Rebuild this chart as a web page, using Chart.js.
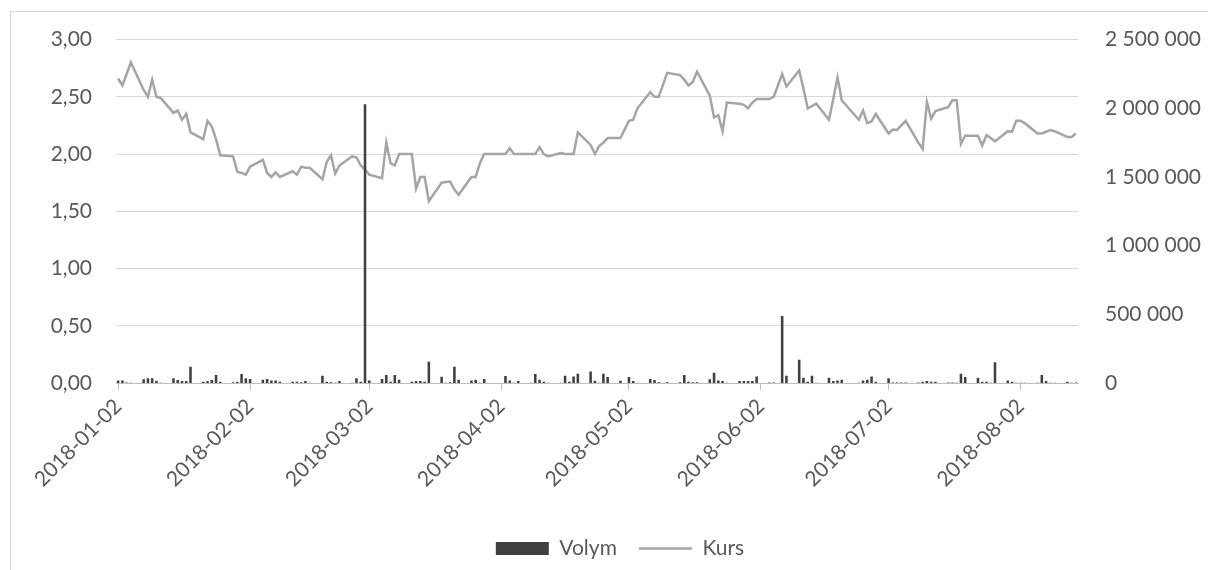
<!DOCTYPE html>
<html>
<head>
<meta charset="utf-8">
<script src="https://cdn.jsdelivr.net/npm/chart.js@4.4.1/dist/chart.umd.min.js"></script>
<style>
  html, body { margin: 0; padding: 0; background: #fff; }
  canvas { display: block; }
</style>
</head>
<body>
<canvas id="kursChart" width="1208" height="570"></canvas>
<script>
// trading days (Swedish exchange, holidays left out)
const dates = [
  "2018-01-02","2018-01-03","2018-01-04","2018-01-05","2018-01-08","2018-01-09","2018-01-10","2018-01-11","2018-01-12",
  "2018-01-15","2018-01-16","2018-01-17","2018-01-18","2018-01-19","2018-01-22","2018-01-23","2018-01-24","2018-01-25",
  "2018-01-26","2018-01-29","2018-01-30","2018-01-31",
  "2018-02-01","2018-02-02","2018-02-05","2018-02-06","2018-02-07","2018-02-08","2018-02-09","2018-02-12","2018-02-13",
  "2018-02-14","2018-02-15","2018-02-16","2018-02-19","2018-02-20","2018-02-21","2018-02-22","2018-02-23","2018-02-26",
  "2018-02-27","2018-02-28",
  "2018-03-01","2018-03-02","2018-03-05","2018-03-06","2018-03-07","2018-03-08","2018-03-09","2018-03-12","2018-03-13",
  "2018-03-14","2018-03-15","2018-03-16","2018-03-19","2018-03-20","2018-03-21","2018-03-22","2018-03-23","2018-03-26",
  "2018-03-27","2018-03-28","2018-03-29",
  "2018-04-03","2018-04-04","2018-04-05","2018-04-06","2018-04-09","2018-04-10","2018-04-11","2018-04-12","2018-04-13",
  "2018-04-16","2018-04-17","2018-04-18","2018-04-19","2018-04-20","2018-04-23","2018-04-24","2018-04-25","2018-04-26",
  "2018-04-27","2018-04-30",
  "2018-05-02","2018-05-03","2018-05-04","2018-05-07","2018-05-08","2018-05-09","2018-05-11","2018-05-14","2018-05-15",
  "2018-05-16","2018-05-17","2018-05-18","2018-05-21","2018-05-22","2018-05-23","2018-05-24","2018-05-25","2018-05-28",
  "2018-05-29","2018-05-30","2018-05-31",
  "2018-06-01","2018-06-04","2018-06-05","2018-06-07","2018-06-08","2018-06-11","2018-06-12","2018-06-13","2018-06-14",
  "2018-06-15","2018-06-18","2018-06-19","2018-06-20","2018-06-21","2018-06-25","2018-06-26","2018-06-27","2018-06-28",
  "2018-06-29",
  "2018-07-02","2018-07-03","2018-07-04","2018-07-05","2018-07-06","2018-07-09","2018-07-10","2018-07-11","2018-07-12",
  "2018-07-13","2018-07-16","2018-07-17","2018-07-18","2018-07-19","2018-07-20","2018-07-23","2018-07-24","2018-07-25",
  "2018-07-26","2018-07-27","2018-07-30","2018-07-31",
  "2018-08-01","2018-08-02","2018-08-03","2018-08-06","2018-08-07","2018-08-08","2018-08-09","2018-08-10","2018-08-13",
  "2018-08-14","2018-08-15"
];

const kurs = [
  2.66,2.60,2.70,2.80,2.56,2.50,2.65,2.50,2.49,
  2.36,2.38,2.30,2.35,2.19,2.13,2.29,2.24,2.13,
  1.99,1.98,1.845,1.835,
  1.82,1.89,1.95,1.835,1.80,1.84,1.80,1.85,1.82,
  1.89,1.88,1.88,1.78,1.93,1.99,1.83,1.90,1.98,
  1.97,1.90,
  1.865,1.82,1.79,2.10,1.92,1.90,2.00,2.00,1.70,
  1.80,1.80,1.59,1.75,1.755,1.76,1.69,1.645,1.80,
  1.80,1.92,2.00,
  2.00,2.05,2.00,2.00,2.00,2.00,2.06,2.00,1.98,
  2.01,2.00,2.00,2.00,2.19,2.08,2.00,2.07,2.10,
  2.14,2.14,
  2.29,2.30,2.40,2.54,2.50,2.50,2.71,2.69,2.65,
  2.60,2.63,2.72,2.51,2.32,2.34,2.20,2.45,2.44,
  2.43,2.40,2.45,
  2.48,2.48,2.50,2.70,2.59,2.73,2.57,2.40,2.42,
  2.44,2.30,2.48,2.67,2.47,2.30,2.38,2.27,2.285,
  2.35,
  2.18,2.215,2.21,2.25,2.29,2.10,2.045,2.455,2.31,
  2.375,2.41,2.47,2.47,2.09,2.16,2.16,2.075,2.165,
  2.14,2.11,2.20,2.195,
  2.29,2.29,2.27,2.18,2.18,2.195,2.21,2.20,2.15,
  2.15,2.18
];

const volym = [
  19000,19000,4000,2500,27000,34000,34000,17000,2500,
  34000,22000,15000,15000,119000,10000,15000,22000,58000,
  10000,5000,10000,66000,
  34000,29000,24000,29000,19000,19000,10000,10000,10000,
  5000,15000,2500,53000,10000,5000,2500,15000,2500,
  34000,10000,
  2030000,19000,29000,58000,10000,58000,24000,10000,15000,
  15000,10000,154000,46000,2500,5000,119000,24000,19000,
  24000,2500,29000,
  51000,19000,2500,15000,2500,66000,24000,10000,2500,
  2500,53000,10000,48000,68000,83000,17000,2500,68000,
  44000,17000,
  44000,15000,2500,29000,22000,5000,5000,5000,58000,
  10000,5000,5000,27000,75000,19000,15000,2500,15000,
  15000,15000,15000,
  48000,4000,4000,488000,53000,170000,39000,10000,53000,
  2500,39000,15000,19000,24000,2500,19000,24000,48000,
  10000,
  34000,4000,4000,4000,4000,4000,10000,15000,10000,
  10000,4000,4000,2500,68000,44000,39000,10000,10000,
  2500,151000,19000,10000,
  2500,2500,2500,2500,58000,15000,2500,2500,10000,
  2500,4000
];

// date axis: one category per calendar day, weekends/holidays left empty
const days = [];
for (let t = Date.UTC(2018, 0, 2); t <= Date.UTC(2018, 7, 15); t += 86400000) {
  days.push(new Date(t).toISOString().slice(0, 10));
}
const kursByDay = days.map(d => { const i = dates.indexOf(d); return i < 0 ? null : kurs[i]; });
const volymByDay = days.map(d => { const i = dates.indexOf(d); return i < 0 ? null : volym[i]; });

const FONT = { family: "Lato", size: 21 };
const TEXT = "#595959";

const chartBorder = {
  id: "chartBorder",
  beforeDraw(chart) {
    const ctx = chart.ctx;
    ctx.save();
    ctx.strokeStyle = "#D9D9D9";
    ctx.lineWidth = 1;
    ctx.strokeRect(10.5, 11.5, 1400, 800);
    ctx.restore();
  }
};

new Chart(document.getElementById("kursChart"), {
  type: "bar",
  data: {
    labels: days,
    datasets: [
      {
        label: "Volym",
        data: volymByDay,
        yAxisID: "y1",
        backgroundColor: "#404040",
        borderWidth: 0,
        barPercentage: 0.6,
        categoryPercentage: 1,
        pointStyle: "rect",
        order: 0
      },
      {
        type: "line",
        label: "Kurs",
        data: kursByDay,
        yAxisID: "y",
        borderColor: "#A5A5A5",
        backgroundColor: "#A5A5A5",
        borderWidth: 2.5,
        pointRadius: 0,
        pointStyle: "line",
        tension: 0,
        spanGaps: true,
        order: 1
      }
    ]
  },
  options: {
    responsive: false,
    animation: false,
    devicePixelRatio: 1,
    layout: { padding: { left: 32, right: 0, top: 33, bottom: 1 } },
    plugins: {
      tooltip: { enabled: false },
      legend: {
        position: "bottom",
        labels: {
          color: TEXT,
          font: FONT,
          usePointStyle: true,
          pointStyleWidth: 53,
          boxHeight: 13,
          padding: 22
        }
      }
    },
    scales: {
      x: {
        offset: true,
        grid: { drawOnChartArea: false, offset: false, tickLength: 7, color: "#BFBFBF" },
        border: { color: "#BFBFBF" },
        ticks: {
          autoSkip: false,
          maxRotation: 45,
          minRotation: 45,
          padding: 4,
          color: TEXT,
          font: FONT
        },
        afterBuildTicks(scale) {
          scale.ticks = scale.ticks.filter(t => days[t.value].endsWith("-02"));
        },
        afterFit(scale) { scale.height = 133; }
      },
      y: {
        position: "left",
        min: 0,
        max: 3,
        grid: { color: "#D9D9D9", drawTicks: false },
        border: { display: false },
        ticks: {
          stepSize: 0.5,
          padding: 24,
          color: TEXT,
          font: FONT,
          callback: v => v.toFixed(2).replace(".", ",")
        },
        afterFit(scale) { scale.width = 84; }
      },
      y1: {
        position: "right",
        min: 0,
        max: 2500000,
        grid: { display: false, drawTicks: false },
        border: { display: false },
        ticks: {
          stepSize: 500000,
          padding: 27,
          color: TEXT,
          font: FONT,
          callback: v => String(v).replace(/\B(?=(\d{3})+(?!\d))/g, " ")
        },
        afterFit(scale) { scale.width = 130; }
      }
    }
  },
  plugins: [chartBorder]
});
</script>
</body>
</html>
